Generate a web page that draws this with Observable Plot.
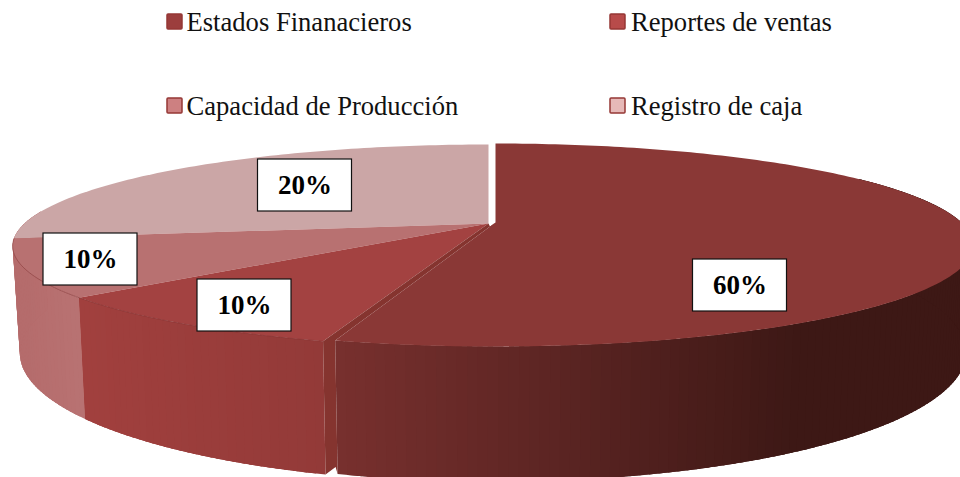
<!DOCTYPE html>
<html>
<head>
<meta charset="utf-8">
<script src="https://cdn.jsdelivr.net/npm/d3@7"></script>
<script src="https://cdn.jsdelivr.net/npm/@observablehq/plot@0.6"></script>
<style>
html,body{margin:0;padding:0;background:#fff;overflow:hidden}
svg{display:block}
</style>
</head>
<body>
<div id="chart"></div>
<script>
// ---- Data ----
const categories = ["Estados Finanacieros", "Reportes de ventas", "Capacidad de Producción", "Registro de caja"];
const printedLabels = ["60%", "10%", "10%", "20%"];
// Share of the circle each drawn slice really covers (the printed labels are rounder than the drawing).
const drawnShares = [54.5, 9.1, 9.0, 27.4];

// ---- Styles ----
const topColors = ["#8a3836", "#a34241", "#b87171", "#cba6a6"];
const swatchColors = ["#9c3e3d", "#b84b4a", "#cd8081", "#e6b9b8"];
const wallStops = {
  main: ["#78302e", "#5a2422", "#3d1815"],
  reportes: ["#a1403e", "#933a38"],
  capacidad: ["#b56c6c", "#b97373"]
};
const cutColor = "#85342f";

// ---- Layout ----
const W = 960, H = 477;
const view = {cx: 488, cy: 223, B: 96.5, k: 0.2217, baseB: 123, baseDy: 101};
const inPlace = {dx: 0, dy: 0, A: 464, baseA: 457};
const pulled = {dx: 7, dy: -1, A: 466, baseA: 459};
const mainCutGapDeg = 0.5, nextCutGapDeg = 0.1;
const stripOverlapDeg = 1.5;
const legendSlots = [[167, 22], [610, 22], [167, 106], [610, 106]];
const legendTextGap = [19, 20.5, 19, 20.5];
const boxCenters = [[739.5, 285], [244, 305], [90, 259], [304.5, 185]];
const boxSize = [94, 52];

// Perspective projection of a point on the pie's circle (angle clockwise from 12 o'clock).
function rim(deg, level, off) {
  const a = deg * Math.PI / 180, u = Math.sin(a), v = -Math.cos(a), w = 1 - view.k * v;
  const base = level === "base";
  return {
    x: view.cx + off.dx + (base ? off.baseA : off.A) * u / w,
    y: view.cy + off.dy + (base ? view.baseDy : 0) + (base ? view.baseB : view.B) * v / w
  };
}

const cum = d3.cumsum(drawnShares).map(s => s * 3.6);
const starts = [0, cum[0] + nextCutGapDeg, cum[1], cum[2]];
const ends = [cum[0] - mainCutGapDeg, cum[1], cum[2], cum[3]];

const polys = [];
function addPoly(id, fill, pts) { pts.forEach(p => polys.push({id, fill, x: p.x, y: p.y})); }
function arc(a0, a1, level, off) {
  const pts = [], n = Math.max(2, Math.ceil(Math.abs(a1 - a0)));
  for (let i = 0; i <= n; i++) pts.push(rim(a0 + (a1 - a0) * i / n, level, off));
  return pts;
}
// A slice's wall is a run of narrow strips, each overlapped by the next, so no seams show.
function wall(name, a0, a1, colorAt, off, dir = 1) {
  const n = Math.ceil(a1 - a0);
  for (let i = 0; i < n; i++) {
    const k = dir > 0 ? i : n - 1 - i;
    const d0 = a0 + (a1 - a0) * k / n, d1 = a0 + (a1 - a0) * (k + 1) / n;
    const lo = dir > 0 ? d0 : Math.max(a0, d0 - stripOverlapDeg);
    const hi = dir > 0 ? Math.min(a1, d1 + stripOverlapDeg) : d1;
    const mid = rim((d0 + d1) / 2, "top", off).x;
    addPoly(`${name}-${k}`, colorAt(mid), [rim(lo, "top", off), rim(hi, "top", off), rim(hi, "base", off), rim(lo, "base", off)]);
  }
}
function ramp(stops, x0, x1) {
  const f = d3.piecewise(d3.interpolateRgb, stops);
  return x => f(Math.max(0, Math.min(1, (x - x0) / (x1 - x0))));
}
const apex = {x: view.cx, y: view.cy};
const apexMain = {x: view.cx + pulled.dx, y: view.cy + pulled.dy};

// Back to front: the walls of the left slices
wall("w2", starts[2], ends[2] + 16, ramp(wallStops.capacidad, 20, 85), inPlace);
wall("w1", starts[1], ends[1], ramp(wallStops.reportes, 85, 323), inPlace);
// top faces of the three slices that stay in place
[3, 2, 1].forEach(i => addPoly(`t${i}`, topColors[i], [apex, ...arc(starts[i], ends[i], "top", inPlace)]));
// cut face of the pulled-out slice
{
  const a = rim(starts[1], "top", inPlace), b = rim(starts[1], "base", inPlace);
  const c = rim(ends[0], "top", pulled), d = rim(ends[0], "base", pulled);
  addPoly("cut", cutColor, [apex, a, b, {x: d.x - 2, y: d.y - 7}, d, c, apexMain, {x: apexMain.x - 5, y: apexMain.y + 5}]);
}
// wall and top of the pulled-out slice
wall("w0", 60, ends[0], ramp(wallStops.main, 335, 800), pulled, -1);
addPoly("t0", topColors[0], [apexMain, ...arc(0, ends[0], "top", pulled)]);

const rimLines = [1, 2].flatMap(i => arc(starts[i], ends[i], "top", inPlace).map(p => ({...p, id: i})));

const legendRows = categories.map((name, i) => ({name, fill: swatchColors[i], x: legendSlots[i][0], y: legendSlots[i][1], gap: legendTextGap[i]}));
const boxes = printedLabels.map((label, i) => ({label, x: boxCenters[i][0], y: boxCenters[i][1]}));

const chart = Plot.plot({
  width: W, height: H,
  margin: 0,
  x: {domain: [0, W], range: [0, W], axis: null},
  y: {domain: [0, H], range: [0, H], axis: null},
  color: {type: "identity"},
  style: {background: "#fff"},
  marks: [
    Plot.line(polys, {x: "x", y: "y", z: "id", fill: "fill", stroke: null, curve: "linear-closed", clip: true}),
    Plot.line(rimLines, {x: "x", y: "y", z: "id", stroke: "#7f3030", strokeOpacity: 0.55, strokeWidth: 0.9, clip: true}),
    Plot.rect(legendRows, {
      x1: d => d.x, x2: d => d.x + 15, y1: d => d.y - 8, y2: d => d.y + 7,
      fill: "fill", stroke: "#953735", strokeWidth: 1.5, rx: 1
    }),
    Plot.text(legendRows, {
      x: d => d.x + d.gap, y: "y", text: "name", textAnchor: "start",
      fontFamily: "Liberation Serif", fontSize: 26.6, fill: "#111"
    }),
    Plot.rect(boxes, {
      x1: d => d.x - boxSize[0] / 2, x2: d => d.x + boxSize[0] / 2,
      y1: d => d.y - boxSize[1] / 2, y2: d => d.y + boxSize[1] / 2,
      fill: "#fff", stroke: "#111", strokeWidth: 1.2
    }),
    Plot.text(boxes, {
      x: "x", y: "y", text: "label", fontFamily: "Liberation Serif",
      fontWeight: "bold", fontSize: 27, fill: "#000"
    })
  ]
});
document.getElementById("chart").append(chart);
</script>
</body>
</html>
